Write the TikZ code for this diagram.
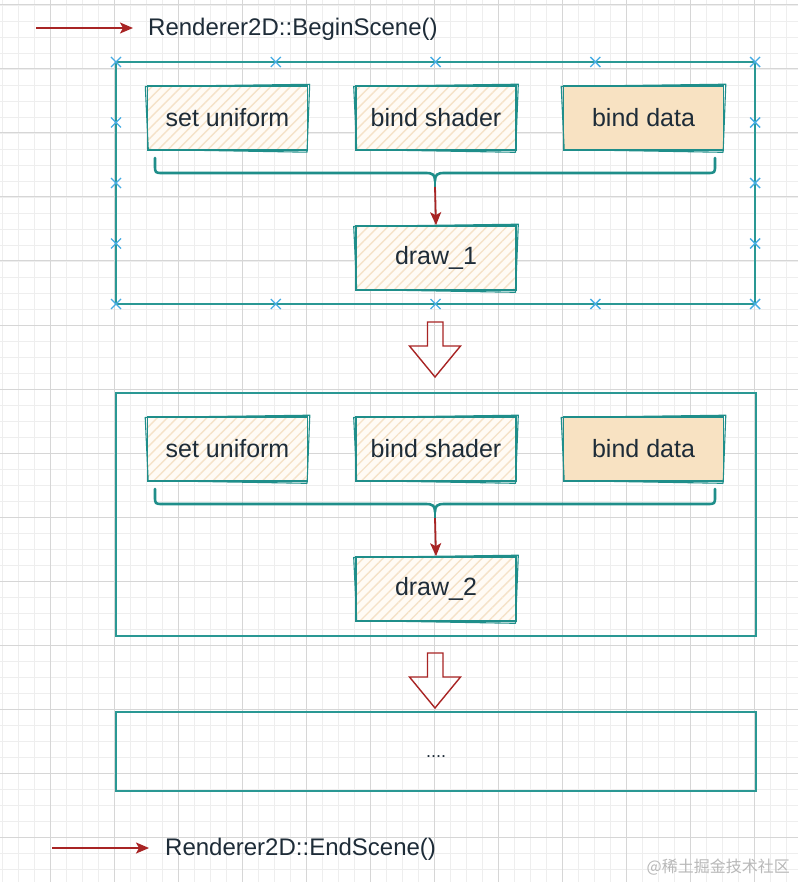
\documentclass[tikz,border=0pt]{standalone}
\usepackage{fontspec}
\setmainfont{Liberation Sans}
\newfontfamily\cjkfont{Noto Sans CJK SC}
\usetikzlibrary{arrows.meta,patterns.meta,calc}
\definecolor{tealc}{HTML}{1F8E8A}
\definecolor{tealf}{HTML}{2A9894}
\definecolor{redc}{HTML}{A82424}
\definecolor{bluex}{HTML}{45ACE4}
\definecolor{txt}{HTML}{1E2C38}
\definecolor{beige}{HTML}{F8E2C2}
\definecolor{hatchc}{HTML}{F5E2C8}
\definecolor{hatchbg}{HTML}{FFFBF5}
\definecolor{gridmaj}{HTML}{D6D6D6}
\definecolor{gridmin}{HTML}{EEEEEE}

\newcommand\skextra[1]{%
  \draw[tealc, line width=1.1pt, line join=round]
    ($(#1.north west)+(-1.5,1.2)$) -- ($(#1.north east)+(1.5,-1)$) --
    ($(#1.south east)+(-1.2,1.5)$) -- ($(#1.south west)+(1.5,-1.2)$) -- cycle;}

\newcommand\xmk[2]{\draw[xmark, shift={(#1,#2)}] (-5,-5) -- (5,5) (-5,5) -- (5,-5);}

\newcommand\stagebody[3]{%
\begin{scope}[shift={(0,#1)}]
  \node[boxtxt,hatched] (su#2) at (227.5,118) {set uniform};
  \node[boxtxt,hatched] (bs#2) at (436,118) {bind shader};
  \node[boxtxt,fill=beige] (bd#2) at (643.5,118) {bind data};
  \node[boxtxt,hatched] (dr#2) at (436,258) {#3};
  \skextra{su#2}\skextra{bs#2}\skextra{bd#2}\skextra{dr#2}
  \draw[bracestyle] (155,158) -- (155,165) .. controls (155,173) .. (163,173)
     -- (426,173) .. controls (433,173) and (435,175) .. (435,181)
     .. controls (435,175) and (437,173) .. (444,173) -- (707,173)
     .. controls (715,173) .. (715,165) -- (715,158);
  \draw[bracestyle] (435,180) -- (435,187) coordinate (st#2);
  \draw[redarrow] (st#2) -- (dr#2.north);
\end{scope}}

\begin{document}
\begin{tikzpicture}[x=1pt,y=-1pt,
  boxtxt/.style={minimum width=160pt, minimum height=64pt, inner sep=0pt, text=txt,
    font=\fontsize{25}{30}\selectfont, draw=tealc, line width=1.6pt},
  hatched/.style={preaction={fill=hatchbg}, pattern={Lines[angle=45,distance=7pt,line width=1.4pt]}, pattern color=hatchc},
  frame/.style={draw=tealf, line width=1.6pt, inner sep=0pt},
  bracestyle/.style={draw=tealc, line width=2.6pt, line cap=round, line join=round},
  redarrow/.style={draw=redc, line width=1.8pt, -{Stealth[length=13pt,width=11pt,inset=3pt]}},
  hollow/.style={draw=redc, line width=1.4pt, line join=miter},
  xmark/.style={draw=bluex, line width=1.4pt},
  title/.style={text=txt, font=\fontsize{24}{28}\selectfont, inner sep=0pt, anchor=west}]
\useasboundingbox (0,0) rectangle (798,882);
\fill[white] (0,0) rectangle (798,882);
% grid
\foreach \x in {2,18,...,798} \draw[gridmin, line width=0.8pt] (\x,0) -- (\x,882);
\foreach \y in {5,21,...,882} \draw[gridmin, line width=0.8pt] (0,\y) -- (798,\y);
\foreach \x in {50,114,...,798} \draw[gridmaj, line width=1pt] (\x,0) -- (\x,882);
\foreach \y in {5,69,...,882} \draw[gridmaj, line width=1pt] (0,\y) -- (798,\y);

% titles
\node[title] (t1) at (148,29.5) {Renderer2D::BeginScene()};
\coordinate (a1) at (36,28);
\draw[redarrow] (a1) -- ($(t1.west)+(-15,-1.5)$);
\node[title] (t2) at (165,849.5) {Renderer2D::EndScene()};
\coordinate (a2) at (52,848);
\draw[redarrow] (a2) -- ($(t2.west)+(-16,-1.5)$);

% frames
\node[frame, minimum width=639pt, minimum height=242pt] (f1) at (435.5,183) {};
\node[frame, minimum width=640pt, minimum height=243pt] (f2) at (436,514.5) {};
\node[frame, minimum width=640pt, minimum height=79pt] (f3) at (436,751.5) {};
\node[text=txt, font=\fontsize{18}{20}\selectfont, inner sep=0pt, anchor=base] (dots) at (436,757) {....};

\stagebody{0}{a}{draw\_1}
\stagebody{331}{b}{draw\_2}

% hollow arrows
\draw[hollow] (427.5,322) -- (443,322) -- (443,346) -- (460.5,346) -- (435,377) -- (409.5,346) -- (427.5,346) -- cycle;
\draw[hollow] (427.5,653) -- (443,653) -- (443,677) -- (460.5,677) -- (435,708) -- (409.5,677) -- (427.5,677) -- cycle;

% selection markers
\foreach \xx in {116,275.75,435.5,595.25,755} {\xmk{\xx}{62}\xmk{\xx}{304}}
\foreach \yy in {122.5,183,243.5} {\xmk{116}{\yy}\xmk{755}{\yy}}

% watermark
\node[text=black!28, font=\cjkfont\fontsize{16}{18}\selectfont, anchor=east, inner sep=0pt] (wm) at (790,867) {@稀土掘金技术社区};
\end{tikzpicture}
\end{document}
